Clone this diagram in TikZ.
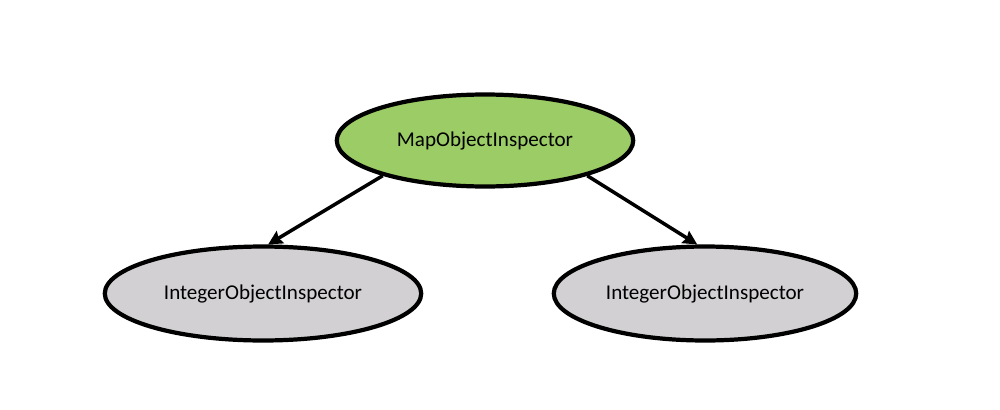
\documentclass[tikz,border=0pt]{standalone}
\usepackage{fontspec}
\setmainfont{Carlito}
\usetikzlibrary{shapes.geometric, arrows.meta}
\definecolor{mapgreen}{RGB}{155,204,101}
\definecolor{intgray}{RGB}{210,208,210}
\tikzstyle{inspector} = [ellipse, draw=black, line width=2.4pt, text centered, font=\fontsize{12}{14}\selectfont]
\tikzstyle{arrow} = [line width=2pt,-{Stealth[length=8pt,width=8pt,inset=1pt]}]

\begin{document}
\begin{tikzpicture}[x=0.02cm, y=-0.02cm]
    \useasboundingbox (0,0) rectangle (1000,409);
    \node (map) [inspector, fill=mapgreen, minimum width=5.93cm, minimum height=1.84cm] at (485,140.5) {MapObjectInspector};
    % Zwei Kinder
    \node (intleft)  [inspector, fill=intgray, minimum width=6.33cm, minimum height=1.88cm] at (263,293.5) {IntegerObjectInspector};
    \node (intright) [inspector, fill=intgray, minimum width=6.05cm, minimum height=1.88cm] at (705,293.5) {IntegerObjectInspector};

    \draw [arrow] (map.199) -- (intleft.84);
    \draw [arrow] (map.341) -- (intright.99);
\end{tikzpicture}
\end{document}
